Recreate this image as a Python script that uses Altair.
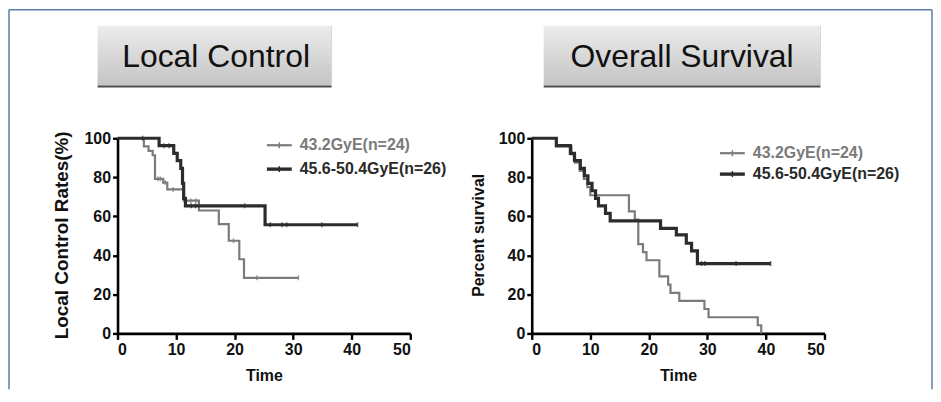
import altair as alt
import pandas as pd

# ---------------- data ----------------
# Local Control, 43.2GyE (n=24)
lc_low_t = [0, 4.5, 5.3, 6.0, 6.4, 7.8, 8.5, 11.3, 13.9, 17.3, 19.0, 20.8, 21.6, 30.9]
lc_low_v = [100, 95.8, 93.5, 91.3, 79.2, 77.3, 73.8, 68.0, 63.0, 56.0, 47.5, 38.0, 28.5, 28.5]
lc_low_cens = [6.9, 7.3, 8.1, 9.5, 12.5, 13.4, 19.8, 23.8, 30.9]

# Local Control, 45.6-50.4GyE (n=26)
lc_high_t = [0, 7.1, 9.6, 10.2, 10.8, 11.1, 11.3, 11.6, 25.2, 41.0]
lc_high_v = [100, 96.2, 92.3, 88.5, 84.6, 76.9, 69.2, 65.4, 55.7, 55.7]
lc_high_cens = [4.3, 7.9, 8.8, 12.6, 13.3, 21.7, 26.1, 28.1, 28.9, 34.9, 41.0]

# Overall Survival, 43.2GyE (n=24)
os_low_t = [0, 4.2, 6.8, 7.4, 8.2, 8.9, 9.5, 10.0, 16.6, 17.6, 18.2, 19.0, 19.6,
            21.8, 23.3, 23.7, 25.2, 29.5, 30.2, 38.6, 39.2]
os_low_v = [100, 95.8, 91.7, 87.5, 83.3, 79.2, 75.0, 70.8, 62.5, 58.3, 45.8, 41.7, 37.5,
            29.2, 25.0, 20.8, 16.7, 12.5, 8.3, 4.2, 0]
os_low_cens = []

# Overall Survival, 45.6-50.4GyE (n=26)
os_high_t = [0, 4.2, 6.6, 7.3, 8.3, 9.0, 9.6, 10.3, 10.9, 11.4, 12.6, 13.4,
             22.0, 24.7, 26.4, 27.3, 28.3, 40.8]
os_high_v = [100, 96.2, 92.3, 88.5, 84.6, 80.8, 76.9, 73.1, 69.2, 65.4, 61.5, 57.7,
             53.8, 50.5, 46.2, 42.3, 35.8, 35.8]
os_high_cens = [29.0, 29.6, 34.9, 40.8]

series_labels = ["43.2GyE(n=24)", "45.6-50.4GyE(n=26)"]
panel_titles = ["Local Control", "Overall Survival"]
y_titles = ["Local Control Rates(%)", "Percent survival"]
x_title = "Time"
x_ticks = [0, 10, 20, 30, 40, 50]
y_ticks = [0, 20, 40, 60, 80, 100]

GRAY = "#7b7b7b"
DARK = "#2c2c2c"
FONT = "Liberation Sans"
W, H = 294, 196


def step_value(ts, vs, t):
    val = vs[0]
    for ti, vi in zip(ts, vs):
        if ti <= t:
            val = vi
    return val


def curve_df(ts, vs):
    return pd.DataFrame({"t": ts, "v": vs})


def cens_df(ts, vs, cens):
    return pd.DataFrame({"t": cens, "v": [step_value(ts, vs, c) for c in cens]})


one = pd.DataFrame({"k": [0]})


def panel(title, ytitle, ytitle_x, curves, box, text_x, leg_x, leg_y, leg_tx, ytitle_size, frame=False):
    xenc = alt.X(
        "t:Q",
        scale=alt.Scale(domain=[0, 50], nice=False, zero=True),
        axis=alt.Axis(
            values=x_ticks, tickCount=len(x_ticks), title=x_title, grid=False,
            labelOverlap=False, labelBound=False,
            domainColor="black", domainWidth=2.6, tickColor="black", tickWidth=2.4, tickSize=6,
            labelFontSize=16, labelFontWeight="bold", labelColor="#111", labelPadding=2,
            labelFont=FONT, titleFont=FONT, titleFontSize=16, titleFontWeight="bold",
            titleColor="#111", titleY=42, titleBaseline="middle", titleAlign="center",
        ),
    )
    yenc = alt.Y(
        "v:Q",
        scale=alt.Scale(domain=[0, 100], nice=False),
        axis=alt.Axis(
            values=y_ticks, tickCount=len(y_ticks), title=ytitle, grid=False,
            labelOverlap=False, labelBound=False,
            domainColor="black", domainWidth=2.6, tickColor="black", tickWidth=2.4, tickSize=5,
            labelFontSize=16, labelFontWeight="bold", labelColor="#111", labelPadding=2,
            labelFont=FONT, titleFont=FONT, titleFontSize=ytitle_size, titleFontWeight="bold",
            titleColor="#111", titleX=ytitle_x, titleY=97, titleAngle=270,
            titleBaseline="middle", titleAlign="center",
        ),
    )
    layers = []
    # title box
    layers.append(
        alt.Chart(one).mark_rect(
            fill=alt.Gradient(gradient="linear", x1=0, x2=0, y1=0, y2=1,
                              stops=[alt.GradientStop(offset=0, color="#ececec"),
                                     alt.GradientStop(offset=1, color="#c4c4c4")])
        ).encode(x=alt.value(box[0]), x2=alt.value(box[1]), y=alt.value(-113), y2=alt.value(-53))
    )
    layers.append(
        alt.Chart(one).mark_rule(color="#4a4a4a", strokeWidth=2).encode(
            x=alt.value(box[0]), x2=alt.value(box[1]), y=alt.value(-52))
    )
    layers.append(
        alt.Chart(one).mark_rule(color="#d8d8d8", strokeWidth=1).encode(
            x=alt.value(box[1]), y=alt.value(-113), y2=alt.value(-53))
    )
    layers.append(
        alt.Chart(one).mark_text(text=title, font=FONT, fontSize=32, color="#111",
                                 align="center", baseline="alphabetic").encode(
            x=alt.value(text_x), y=alt.value(-72))
    )
    # curves
    for (ts, vs, cens), color, sw in zip(curves, [GRAY, DARK], [2.2, 3.2]):
        layers.append(
            alt.Chart(curve_df(ts, vs)).mark_line(interpolate="step-after", color=color,
                                                  strokeWidth=sw).encode(x=xenc, y=yenc)
        )
        if cens:
            layers.append(
                alt.Chart(cens_df(ts, vs, cens)).mark_tick(orient="vertical", size=5,
                                                           thickness=1.5, color=color).encode(
                    x="t:Q", y="v:Q")
            )
    # legend
    for i, (label, color, sw) in enumerate(zip(series_labels, [GRAY, DARK], [2.2, 3.4])):
        ly = leg_y[i]
        layers.append(
            alt.Chart(one).mark_rule(color=color, strokeWidth=sw).encode(
                x=alt.value(leg_x[0]), x2=alt.value(leg_x[1]), y=alt.value(ly))
        )
        mid = (leg_x[0] + leg_x[1]) / 2
        layers.append(
            alt.Chart(one).mark_rule(color=color, strokeWidth=1.5).encode(
                x=alt.value(mid), y=alt.value(ly - 3), y2=alt.value(ly + 3))
        )
        layers.append(
            alt.Chart(one).mark_text(text=label, font=FONT, fontSize=16, fontWeight="bold",
                                     color="#7a7a7a" if i == 0 else "#2a2a2a",
                                     align="left", baseline="middle").encode(
                x=alt.value(leg_tx), y=alt.value(ly))
        )
    if frame:
        fc = "#5a7eab"
        layers.append(alt.Chart(one).mark_rule(color=fc, strokeWidth=1.5).encode(
            x=alt.value(-109), x2=alt.value(818), y=alt.value(-129)))
        layers.append(alt.Chart(one).mark_rule(color=fc, strokeWidth=1.5).encode(
            x=alt.value(-109), y=alt.value(-129), y2=alt.value(252)))
        layers.append(alt.Chart(one).mark_rule(color=fc, strokeWidth=1.5).encode(
            x=alt.value(818), y=alt.value(-129), y2=alt.value(252)))
    return alt.layer(*layers).properties(width=W, height=H)


left = panel(
    panel_titles[0], y_titles[0], -56,
    [(lc_low_t, lc_low_v, lc_low_cens), (lc_high_t, lc_high_v, lc_high_cens)],
    box=(-20, 215), text_x=99, leg_x=(150, 175), leg_y=(7, 31), leg_tx=183,
    ytitle_size=19, frame=True,
)
right = panel(
    panel_titles[1], y_titles[1], -53,
    [(os_low_t, os_low_v, os_low_cens), (os_high_t, os_high_v, os_high_cens)],
    box=(12, 290), text_x=151, leg_x=(189, 214), leg_y=(15, 36), leg_tx=222,
    ytitle_size=16,
)

chart = (
    alt.hconcat(left, right, spacing=122, bounds="flush")
    .properties(padding=0)
    .configure(font=FONT)
    .configure_view(stroke=None)
)

chart.save("out.html", embed_options={"renderer": "svg", "actions": False})
